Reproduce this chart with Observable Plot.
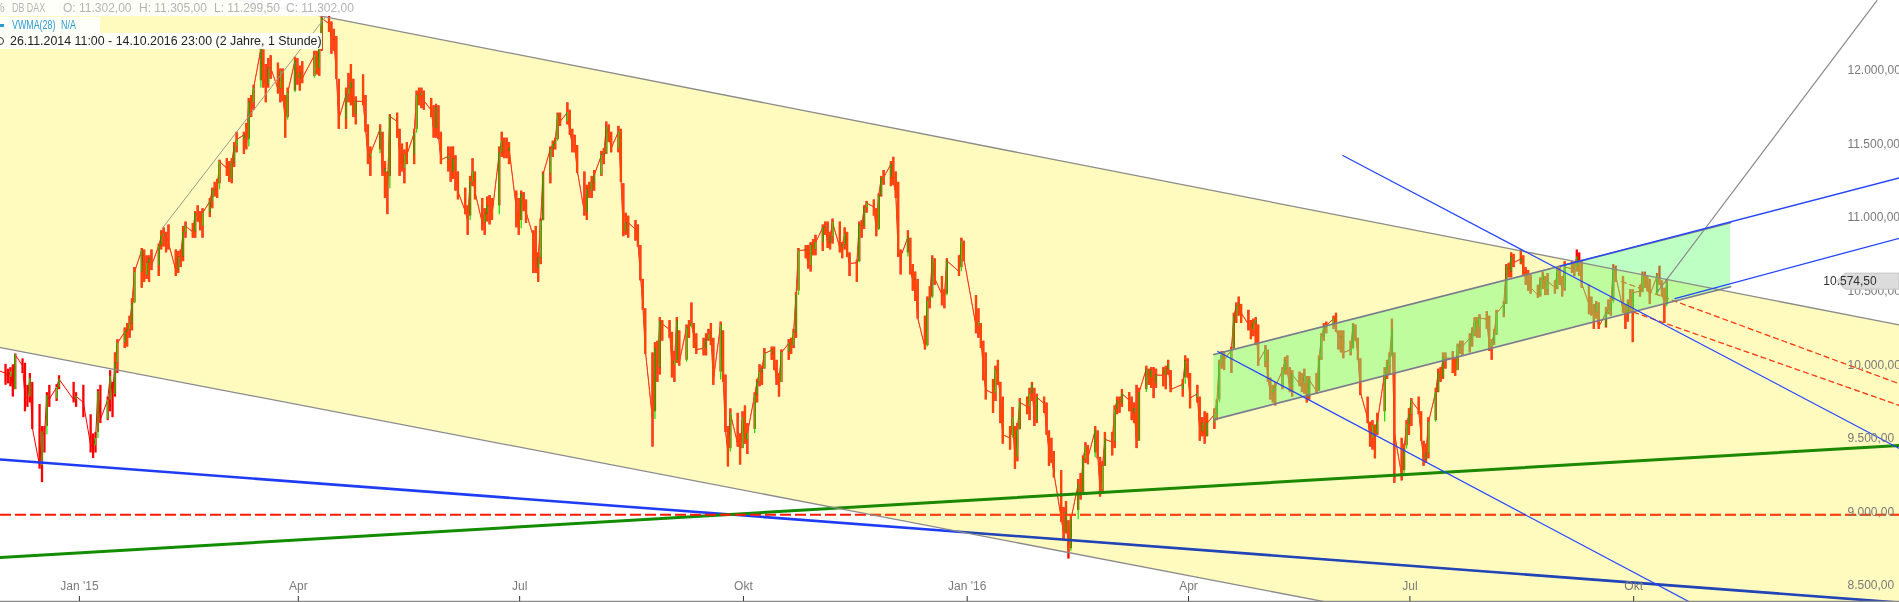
<!DOCTYPE html>
<html><head><meta charset="utf-8">
<script src="https://cdn.jsdelivr.net/npm/d3@7"></script>
<script src="https://cdn.jsdelivr.net/npm/@observablehq/plot@0.6"></script>
<style>
html,body{margin:0;padding:0;background:#fff;overflow:hidden;}
#wrap{position:relative;width:1899px;height:602px;overflow:hidden;font-family:"Liberation Sans",Arial,sans-serif;}
.hdr{position:absolute;left:0;height:16px;line-height:16px;font-size:12px;white-space:pre;background:rgba(255,255,255,0.9);}
.hdr span{position:absolute;top:0;}
.narrow{transform:scaleX(0.74);transform-origin:0 50%;}
</style></head><body><div id="wrap"></div>
<script>
// ---------- DATA ----------
const firstTradingDay = "2014-11-26";
const holidays = ["2014-12-24","2014-12-25","2014-12-26","2014-12-31","2015-01-01","2015-04-03","2015-04-06","2015-05-01","2015-12-24","2015-12-25","2015-12-31","2016-01-01","2016-03-25","2016-03-28"];
const firstOpen = 9880;
const closes = [
9915,9974,9980,
9963,9935,9971,9851,10087,10014,9799,9800,9928,9594,9334,9563,9544,9811,9787,9865,9922,9783,9806,
9764,9473,9469,9518,9838,9648,9781,9941,9817,10032,10167,10242,10257,10299,10435,10649,10798,10628,10710,10738,10694,
10828,10891,10911,10905,10846,10663,10752,10752,10919,10963,10923,11050,11037,10961,11051,11130,11205,11211,11210,11401,
11356,11280,11391,11504,11550,11582,11500,11806,11799,11901,12168,11980,11922,12036,12039,11895,12013,11843,11683,11868,12086,11966,
12002,11967,12123,12035,12166,12375,12338,12227,12231,11998,11689,11853,11896,11939,11723,11811,11810,11632,11432,11454,
11621,11327,11350,11216,11709,11673,11472,11351,11448,11447,11594,11853,11848,11865,11815,11750,11625,11771,11577,11413,
11436,11328,11419,11340,11197,11065,11001,11265,11333,11196,10984,11044,11100,11100,11040,11460,11542,11472,11472,11492,11084,10945,
11181,11099,11058,10890,10676,10747,10997,11316,11485,11516,11539,11717,11673,11734,11604,11520,11512,11347,11056,11211,11199,11257,11308,
11444,11456,11636,11585,11490,11604,11293,10924,10985,10985,10940,10850,10636,10432,10124,9648,10128,9997,10315,10298,10259,
10016,10048,10318,10038,10271,10271,10303,10210,10123,10131,10188,10227,10229,9916,10292,9948,9570,9427,9688,9483,9450,9660,
9509,9553,9814,9902,9970,9993,10096,10119,10032,9915,9900,10104,10164,10147,10238,10491,10795,10801,10692,10832,10801,10850,
10951,10959,10845,10888,10988,10815,10833,10907,10783,10708,10713,10971,10959,11085,11119,11092,10933,11169,11285,11293,11382,
11261,11190,10789,10752,10887,10673,10592,10598,10340,10140,10450,10470,10738,10608,10497,10489,10727,10653,10860,10743,
10283,10310,10214,9979,9849,9825,9985,9960,9794,9545,9521,9664,9392,9574,9764,9736,9822,9880,9639,9798,
9757,9581,9434,9393,9286,8979,8879,9017,8752,8967,9206,9135,9377,9463,9388,9573,9416,9167,9331,9513,9495,
9717,9776,9751,9824,9778,9692,9723,9498,9831,9990,9933,9983,9892,9950,9948,9990,10022,9851,9887,10046,9966,
9794,9822,9564,9624,9531,9622,9682,9761,10026,10094,10051,10120,10350,10421,10435,10373,10294,10260,10299,10321,10039,
10123,9926,9829,9851,9870,9980,10045,9975,9862,9952,9891,9890,9943,9795,9916,9842,10058,10205,10272,10287,10333,10263,
10204,10208,10103,10121,10288,10218,10089,9834,9657,9520,9606,9551,9631,9962,10015,10071,10257,9557,9269,9448,9613,9680,
9776,9709,9532,9373,9418,9629,9833,9964,9930,10068,10066,10063,9981,10142,10156,10147,10199,10247,10319,10275,10337,
10330,10144,10170,10228,10367,10432,10692,10650,10753,10713,10739,10676,10603,10603,10544,10494,10593,10623,10529,10587,10544,10657,10592,
10534,10684,10672,10687,10752,10675,10573,10432,10386,10379,10431,10276,10373,10393,10436,10674,10626,10394,10361,10438,10405,10511,
10519,10619,10585,10568,10491,10625,10577,10524,10414,10575];
const highs = [
9930,9985,10000,
10023,9990,10000,10020,10093,10060,10030,9880,9960,9900,9750,9600,9600,9830,9880,9885,9945,9900,9830,
9880,9680,9550,9560,9850,9880,9800,9980,9900,10100,10190,10270,10300,10350,10470,10680,10810,10800,10760,10760,10800,
10840,10930,10950,10920,10970,10800,10790,10800,10960,10990,10980,11060,11100,11060,11080,11150,11220,11260,11280,11410,
11420,11400,11420,11530,11600,11600,11660,11830,11850,11920,12200,12160,12060,12100,12120,12070,12030,12030,11850,11900,12110,12100,
12050,12080,12150,12150,12190,12390,12390,12350,12300,12250,11960,11900,12000,12060,11960,11840,11990,11850,11650,11500,
11650,11600,11400,11330,11720,11730,11620,11520,11480,11530,11620,11880,11900,11900,11880,11830,11780,11790,11780,11600,
11500,11500,11500,11440,11330,11220,11100,11300,11420,11330,11150,11080,11160,11170,11150,11500,11600,11560,11560,11530,11200,11150,
11200,11190,11140,10930,10960,10780,11010,11330,11500,11540,11560,11730,11730,11800,11750,11620,11580,11510,11330,11240,11260,11300,11340,
11470,11490,11670,11650,11600,11640,11620,11250,11050,11030,11000,10970,10830,10600,10400,10100,10170,10180,10340,10320,10320,
10240,10110,10340,10250,10290,10320,10440,10300,10230,10200,10230,10260,10300,10200,10310,10250,9950,9600,9720,9690,9550,9700,
9740,9620,9830,9920,10020,10010,10130,10140,10140,10050,9960,10120,10190,10200,10260,10510,10810,10830,10830,10850,10870,10900,
10970,10990,10990,10920,11010,10990,10850,10950,10920,10780,10730,10990,11000,11100,11130,11140,11080,11180,11300,11340,11400,
11430,11330,11260,10800,10930,10880,10700,10650,10600,10350,10480,10550,10760,10740,10620,10530,10740,10760,10880,10860,
10490,10400,10300,10180,10100,9920,10010,10050,9900,9800,9600,9730,9600,9620,9790,9800,9860,9900,9860,9820,
9800,9760,9570,9520,9430,9300,9050,9090,8960,8990,9240,9280,9400,9490,9470,9600,9570,9390,9360,9560,9560,
9740,9800,9800,9850,9830,9800,9760,9880,9860,10010,9990,10000,10000,9990,10000,10010,10050,9980,9920,10080,10060,
9960,9880,9800,9660,9700,9690,9720,9780,10050,10110,10110,10140,10370,10440,10480,10430,10390,10320,10330,10340,10290,
10150,10120,9930,9880,9900,10000,10070,10080,10000,9980,9970,9960,9990,9940,9940,9960,10080,10230,10300,10310,10350,10370,
10250,10250,10250,10180,10300,10290,10200,10060,9800,9630,9640,9610,9690,10000,10050,10100,10330,10100,9520,9480,9640,9720,
9790,9800,9700,9500,9480,9660,9860,9990,10000,10100,10100,10110,10060,10160,10180,10180,10230,10270,10340,10340,10360,
10380,10350,10190,10260,10390,10450,10700,10710,10780,10770,10800,10760,10680,10660,10630,10560,10610,10650,10620,10640,10590,10680,10690,
10620,10720,10720,10710,10800,10780,10730,10560,10480,10430,10450,10440,10410,10460,10480,10700,10690,10620,10430,10460,10530,10530,
10560,10650,10650,10620,10600,10640,10690,10590,10540,10600];
const lows = [
9850,9890,9930,
9880,9890,9870,9800,9850,9960,9700,9730,9760,9580,9310,9219,9420,9600,9730,9770,9850,9760,9730,
9660,9420,9382,9420,9560,9620,9640,9700,9660,9800,9960,10130,10140,10200,10250,10440,10540,10580,10600,10580,10660,
10620,10800,10820,10780,10800,10620,10640,10680,10720,10880,10880,10880,10990,10930,10880,11020,11080,11160,11150,11250,
11300,11260,11250,11360,11460,11450,11480,11550,11700,11750,11950,11900,11800,11900,11960,11860,11800,11810,11560,11700,11880,11920,
11880,11930,11980,11990,11980,12150,12280,12130,12150,11960,11620,11620,11800,11780,11700,11650,11780,11600,11380,11300,
11480,11300,11150,11040,11300,11560,11300,11330,11250,11380,11380,11620,11780,11760,11750,11700,11560,11560,11550,11380,
11330,11260,11280,11200,11140,11040,10900,11030,11230,11140,10930,10900,10990,10970,11000,11100,11430,11420,11420,11380,10950,10900,
11000,11060,10980,10640,10640,10580,10700,11000,11250,11430,11480,11550,11640,11650,11580,11460,11460,11320,11030,11000,11150,11150,11200,
11300,11380,11450,11530,11460,11460,11260,10890,10900,10880,10860,10820,10590,10390,10090,9460,9700,9900,9950,10180,10200,
9930,9900,10030,10010,10050,10200,10280,10130,10090,10080,10080,10180,10150,9880,9970,9900,9560,9325,9450,9460,9338,9450,
9480,9410,9580,9760,9870,9880,9990,10050,9980,9880,9800,9900,10050,10090,10130,10200,10520,10740,10670,10650,10760,10760,
10790,10900,10810,10800,10840,10780,10740,10800,10750,10620,10580,10720,10880,10940,11050,11030,10890,10940,11160,11240,11230,
11240,11150,10750,10630,10780,10630,10520,10450,10330,10120,10150,10400,10480,10560,10420,10400,10500,10620,10680,10720,
10230,10200,10130,9910,9780,9690,9770,9880,9620,9480,9440,9540,9310,9360,9580,9680,9640,9770,9600,9620,
9690,9540,9330,9350,9250,8950,8830,8870,8699,8770,9030,9100,9150,9350,9340,9420,9380,9120,9150,9330,9400,
9450,9680,9690,9730,9700,9640,9620,9450,9500,9850,9880,9860,9790,9860,9870,9850,9950,9830,9800,9930,9930,
9720,9760,9500,9530,9480,9530,9580,9640,9780,9990,9980,9960,10130,10300,10350,10300,10250,10190,10210,10150,10010,
10000,9900,9780,9760,9740,9850,9950,9950,9830,9800,9870,9830,9820,9760,9780,9820,9840,10050,10180,10230,10260,10240,
10120,10100,10060,10080,10130,10180,10050,9810,9620,9460,9440,9380,9540,9700,9920,9950,10080,9214,9230,9300,9470,9540,
9600,9680,9500,9330,9350,9380,9640,9830,9900,9920,9990,9960,9940,9980,10090,10080,10100,10140,10210,10200,10200,
10260,10110,10050,10150,10220,10340,10430,10610,10610,10680,10700,10620,10560,10520,10500,10470,10480,10530,10490,10490,10500,10530,10560,
10480,10520,10640,10620,10650,10620,10540,10360,10350,10260,10330,10260,10270,10360,10350,10450,10580,10370,10260,10310,10370,10170,
10480,10510,10540,10520,10430,10500,10560,10480,10300,10430];

const lastPrice = 10574.5;
const ohlcHeader = [["O", 11302], ["H", 11305], ["L", 11299.5], ["C", 11302]];

const xDomain = ["2014-11-29T13:26Z", "2017-01-18T07:12Z"];
const yDomain = [8404, 12495.5];
const yTicks = [8500, 9000, 9500, 10000, 10500, 11000, 11500, 12000];
const xTickDates = ["2015-01-01","2015-04-01","2015-07-01","2015-10-01","2016-01-01","2016-04-01","2016-07-01","2016-10-01"];
const xTickLabels = ["Jan '15","Apr","Jul","Okt","Jan '16","Apr","Jul","Okt"];

// drawn trend lines: [date, value] end points
const upperChannel = [[xDomain[0], 12816], [xDomain[1], 10290]];
const lowerChannel = [[xDomain[0], 10137], [xDomain[1], 7659]];
const thickBlue    = [[xDomain[0], 9376],  [xDomain[1], 8403]];
const thickGreen   = [[xDomain[0], 8710],  [xDomain[1], 9472]];
const supportLevel = 9000;
const greenTop     = [["2016-04-11T10:00Z", 10090], ["2016-11-09T21:00Z", 10985]];
const greenBottom  = [["2016-04-11T10:00Z", 9647],  ["2016-11-09T21:00Z", 10550]];
const blueA        = [["2016-06-03T10:00Z", 11442], [xDomain[1], 9450]];
const blueB        = [["2016-04-13T00:00Z", 10110], ["2016-10-26T00:00Z", 8390]];
const blueUpper    = [["2016-09-01T00:00Z", 10691], [xDomain[1], 11290]];
const blueLower    = [["2016-10-18T00:00Z", 10470], [xDomain[1], 10880]];
const redDash1     = [["2016-09-26T00:00Z", 10586], [xDomain[1], 9890]];
const redDash2     = [["2016-10-01T00:00Z", 10377], [xDomain[1], 9743]];
const steepGray    = [["2016-10-11T00:00Z", 10520], ["2017-01-09T00:00Z", 12495]];
const risingGray   = [["2015-02-04T00:00Z", 10946], ["2015-04-12T00:00Z", 12380]];

// ---------- BUILD ----------
const hol = new Set(holidays);
const dates = [];
let cur = new Date(firstTradingDay + "T00:00Z");
while (dates.length < closes.length) {
  const wd = cur.getUTCDay();
  const iso = cur.toISOString().slice(0, 10);
  if (wd !== 0 && wd !== 6 && !hol.has(iso)) dates.push(new Date(cur.getTime() + 15 * 3600e3));
  cur = new Date(cur.getTime() + 86400e3);
}
const candles = closes.map((c, i) => ({
  date: dates[i], open: i ? closes[i - 1] : firstOpen, close: c, high: highs[i], low: lows[i]
}));
const upCandles = candles.filter(d => d.close > d.open);

const rows = pairs => pairs.map(([d, v]) => ({date: new Date(d), value: v}));
const band = (lo, hi) => lo.map((p, i) => ({date: new Date(p[0]), lo: p[1], hi: hi[i][1]}));
const yellowBand = band(lowerChannel, upperChannel);
const greenBand = band(greenBottom, greenTop);

const deLocale = d3.formatLocale({decimal: ",", thousands: ".", grouping: [3], currency: ["", "€"]});
const fmt = deLocale.format(",.2f");
const xTicks = xTickDates.map((d, i) => ({date: new Date(d + "T00:00Z"), label: xTickLabels[i]}));

const line = (pairs, o) => Plot.line(rows(pairs), {x: "date", y: "value", clip: true, ...o});

const plot = Plot.plot({
  width: 1899, height: 602,
  marginTop: 0, marginRight: 0, marginBottom: 0, marginLeft: 0,
  style: {fontFamily: "'Liberation Sans', Arial, sans-serif", fontSize: "12px", background: "#fff"},
  x: {type: "utc", domain: xDomain.map(d => new Date(d)), axis: null},
  y: {domain: yDomain, axis: null},
  marks: [
    Plot.line(candles, {x: "date", y: "close", stroke: "#ff0000", strokeWidth: 1, clip: true}),
    Plot.ruleX(candles, {x: "date", y1: "low", y2: "high", stroke: "#ff0000", strokeWidth: 2.3, clip: true}),
    Plot.ruleX(upCandles, {x: "date", y1: "open", y2: "close", stroke: "#00e800", strokeWidth: 1.2, clip: true}),
    line(thickBlue, {stroke: "#1f3cf5", strokeWidth: 2.6}),
    line(thickGreen, {stroke: "#128c00", strokeWidth: 3}),
    Plot.ruleY([supportLevel], {stroke: "#ff1a00", strokeWidth: 2, strokeDasharray: "11,4"}),
    line(redDash1, {stroke: "#ff1a00", strokeWidth: 1.2, strokeDasharray: "5,4"}),
    line(redDash2, {stroke: "#ff1a00", strokeWidth: 1.2, strokeDasharray: "5,4"}),
    Plot.areaY(yellowBand, {x: "date", y1: "lo", y2: "hi", fill: "rgb(255,250,190)", mixBlendMode: "multiply", ariaDescription: "yellow-mult", clip: true}),
    Plot.areaY(yellowBand, {x: "date", y1: "lo", y2: "hi", fill: "rgb(30,70,0)", mixBlendMode: "lighten", ariaDescription: "yellow-light", clip: true}),
    Plot.areaY(greenBand, {x: "date", y1: "lo", y2: "hi", fill: "rgb(100,255,115)", fillOpacity: 0.42, clip: true}),
    line(upperChannel, {stroke: "#8a8a8a", strokeWidth: 1.3}),
    line(lowerChannel, {stroke: "#8a8a8a", strokeWidth: 1.3}),
    line(risingGray, {stroke: "#9a9a8a", strokeWidth: 1}),
    line(steepGray, {stroke: "#8a8a8a", strokeWidth: 1.2}),
    line(greenTop, {stroke: "#7b7b8e", strokeWidth: 1.6}),
    line(greenBottom, {stroke: "#7b7b8e", strokeWidth: 1.6}),
    line(blueA, {stroke: "#2244ff", strokeWidth: 1.2}),
    line(blueB, {stroke: "#2244ff", strokeWidth: 1.2}),
    line(blueUpper, {stroke: "#2244ff", strokeWidth: 1.3}),
    line(blueLower, {stroke: "#2244ff", strokeWidth: 1.3}),
    Plot.ruleY([yDomain[0]], {stroke: "#8c8c8c", strokeWidth: 1.5, dy: -1}),
    Plot.ruleX(xTicks, {x: "date", stroke: "#333", strokeWidth: 1, insetTop: 596, insetBottom: 1}),
    Plot.text(xTicks, {x: "date", text: "label", frameAnchor: "bottom", dy: -13, fill: "#7a7a7a", fontSize: 12}),
    Plot.text(yTicks, {y: d => d, text: d => fmt(d), frameAnchor: "right", dx: -52, dy: -3, textAnchor: "start", fill: "#7a7a7a", fontSize: 12})
  ]
});

const svg = d3.select(plot);
svg.selectAll('g[aria-description="yellow-mult"]').style("mix-blend-mode", "multiply");
svg.selectAll('g[aria-description="yellow-light"]').style("mix-blend-mode", "lighten");

// last price tag
const ys = plot.scale("y");
const W = 1899;
const ty = ys.apply(lastPrice) - 1.5;
const tag = svg.append("g");
tag.append("path")
  .attr("d", `M${W - 62},${ty} L${W - 54},${ty - 8} L${W},${ty - 8} L${W},${ty + 8} L${W - 54},${ty + 8} Z`)
  .attr("fill", "#dcdcdc").attr("stroke", "#c4c4c4");
tag.append("text").attr("x", W - 49).attr("y", ty).attr("dy", "0.35em")
  .attr("fill", "#333").attr("font-size", 12).text(fmt(lastPrice));

const wrap = document.getElementById("wrap");
wrap.appendChild(plot);

// header overlay
const h1 = document.createElement("div");
h1.className = "hdr"; h1.style.top = "0px"; h1.style.width = "362px"; h1.style.color = "#b3b3b3";
const h1parts = [["%", -6, ""], ["DB DAX", 12, "narrow"]].concat(ohlcHeader.map(([k, v], i) => [k + ": " + fmt(v), [63, 139, 214, 286][i], ""]));
h1.innerHTML = h1parts.map(([t, l, c]) => `<span class="${c}" style="left:${l}px">${t}</span>`).join("");
wrap.appendChild(h1);

const h2 = document.createElement("div");
h2.className = "hdr"; h2.style.top = "17px"; h2.style.width = "100px"; h2.style.color = "#2a9bd2";
h2.innerHTML = `<span style="left:0;top:7px;width:4px;height:3px;background:#2a9bd2"></span><span class="narrow" style="left:12px">VWMA(28)</span><span class="narrow" style="left:61px">N/A</span>`;
wrap.appendChild(h2);

const h3 = document.createElement("div");
h3.className = "hdr"; h3.style.top = "33px"; h3.style.width = "322px"; h3.style.color = "#222";
h3.innerHTML = `<span style="left:-4px;top:4px;width:6px;height:6px;border:1.5px solid #333;border-radius:50%"></span><span style="left:10px;font-size:12.4px">26.11.2014 11:00 - 14.10.2016 23:00 (2 Jahre, 1 Stunde)</span>`;
wrap.appendChild(h3);
</script></body></html>
